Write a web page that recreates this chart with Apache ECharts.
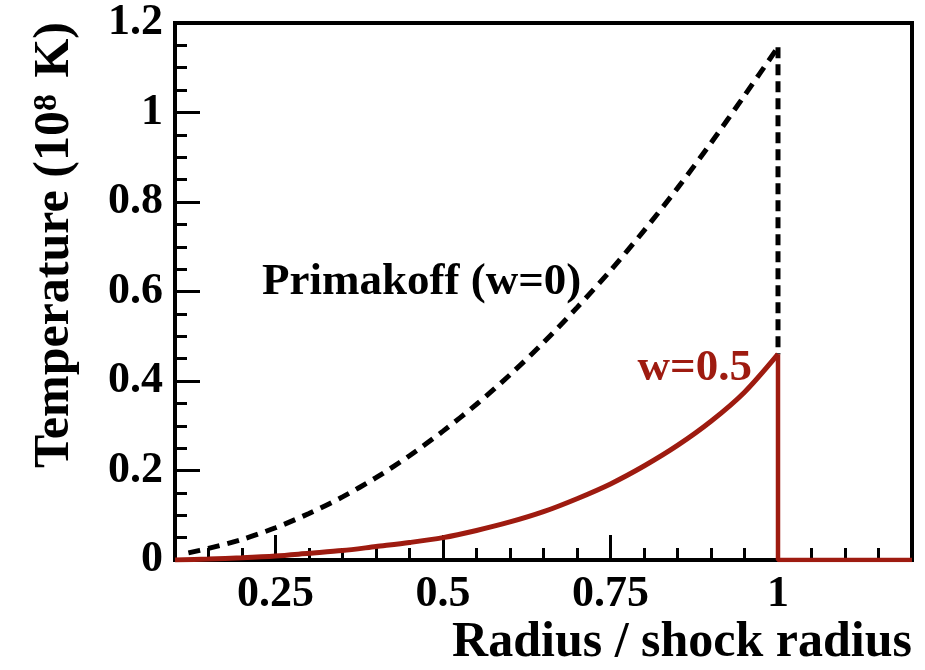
<!DOCTYPE html>
<html>
<head>
<meta charset="utf-8">
<script src="https://cdn.jsdelivr.net/npm/echarts@6/dist/echarts.min.js"></script>
<style>
  html, body { margin: 0; padding: 0; background: #fff; }
  #chart { width: 925px; height: 670px; }
</style>
</head>
<body>
<div id="chart"></div>
<script>
// Primakoff (w=0), dashed black
var radiusW0 = [0.12, 0.15, 0.2, 0.25, 0.3, 0.35, 0.4, 0.45, 0.5, 0.55, 0.6, 0.65, 0.7, 0.75, 0.8, 0.85, 0.9, 0.95, 1.0];
var tempW0   = [0.016, 0.026, 0.046, 0.072, 0.104, 0.141, 0.184, 0.233, 0.288, 0.348, 0.414, 0.486, 0.564, 0.647, 0.736, 0.831, 0.932, 1.038, 1.146];
// w=0.5, solid red
var radiusW05 = [0.1, 0.15, 0.2, 0.25, 0.3, 0.35, 0.4, 0.45, 0.5, 0.55, 0.6, 0.65, 0.7, 0.75, 0.8, 0.85, 0.9, 0.95, 1.0];
var tempW05   = [0.0, 0.002, 0.005, 0.009, 0.015, 0.021, 0.03, 0.039, 0.05, 0.066, 0.085, 0.108, 0.137, 0.17, 0.21, 0.256, 0.31, 0.375, 0.46];
// shock jump and outside region
var jumpW0X = [1.0, 1.0];
var jumpW0Y = [1.146, 0.46];
var jumpW05X = [1.0, 1.0, 1.2];
var jumpW05Y = [0.46, 0.0, 0.0];
// ticks
var xMajorTicks = [0.25, 0.5, 0.75, 1];
var xMinorTicks = [0.15, 0.2, 0.3, 0.35, 0.4, 0.45, 0.55, 0.6, 0.65, 0.7, 0.8, 0.85, 0.9, 0.95, 1.05, 1.1, 1.15];

var RED = '#9e1b10';
var FONT = '"Liberation Serif", "DejaVu Serif", serif';

function zip(xs, ys) {
  var out = [];
  for (var i = 0; i < xs.length; i++) out.push([xs[i], ys[i]]);
  return out;
}

var chart = echarts.init(document.getElementById('chart'));
var option = {
  animation: false,
  backgroundColor: '#fff',
  grid: {
    left: 175, top: 23, right: 13, bottom: 110,
    show: true, borderColor: '#000', borderWidth: 4
  },
  xAxis: [
    {
      type: 'value', min: 0.1, max: 1.2, position: 'bottom',
      axisLine: { show: false },
      splitLine: { show: false },
      axisTick: { show: true, inside: true, length: 12, lineStyle: { color: '#000', width: 3 }, customValues: xMinorTicks },
      axisLabel: { show: false }
    },
    {
      type: 'value', min: 0.1, max: 1.2, position: 'bottom',
      axisLine: { show: false },
      splitLine: { show: false },
      axisTick: { show: true, inside: true, length: 25, lineStyle: { color: '#000', width: 3 }, customValues: xMajorTicks },
      axisLabel: {
        customValues: xMajorTicks, margin: 13,
        color: '#000', fontFamily: FONT, fontWeight: 'bold', fontSize: 44
      }
    }
  ],
  yAxis: {
    type: 'value', min: 0, max: 1.2, interval: 0.2,
    axisLine: { show: false },
    splitLine: { show: false },
    axisTick: { show: true, inside: true, length: 25, lineStyle: { color: '#000', width: 3 } },
    minorTick: { show: true, splitNumber: 4, length: 12, lineStyle: { color: '#000', width: 3 } },
    axisLabel: {
      margin: 12, color: '#000', fontFamily: FONT, fontWeight: 'bold', fontSize: 44
    }
  },
  series: [
    {
      type: 'line', xAxisIndex: 0, data: zip(radiusW0, tempW0),
      showSymbol: false, smooth: 0.3,
      lineStyle: { color: '#000', width: 5, type: [12, 8] }
    },
    {
      type: 'line', xAxisIndex: 0, data: zip(jumpW0X, jumpW0Y),
      showSymbol: false,
      lineStyle: { color: '#000', width: 5, type: [11, 6] }
    },
    {
      type: 'line', xAxisIndex: 0, data: zip(radiusW05, tempW05),
      showSymbol: false, smooth: 0.3, z: 3,
      lineStyle: { color: RED, width: 5 }
    },
    {
      type: 'line', xAxisIndex: 0, data: zip(jumpW05X, jumpW05Y),
      showSymbol: false, z: 3,
      lineStyle: { color: RED, width: 4.5 }
    }
  ],
  graphic: [
    {
      type: 'text', x: 912, y: 643,
      style: {
        text: 'Radius / shock radius', fill: '#000',
        font: 'bold 50px ' + FONT, textAlign: 'right', textVerticalAlign: 'middle'
      }
    },
    {
      type: 'text', x: 55, y: 245, rotation: Math.PI / 2,
      style: {
        text: 'Temperature (10{s|8} K)', fill: '#000',
        font: 'bold 50px ' + FONT, textAlign: 'center', textVerticalAlign: 'middle',
        rich: { s: { font: 'bold 34px ' + FONT, fill: '#000', verticalAlign: 'top', padding: [0, 4, 0, 0] } }
      }
    },
    {
      type: 'text', x: 262, y: 282,
      style: {
        text: 'Primakoff (w=0)', fill: '#000',
        font: 'bold 45px ' + FONT, textAlign: 'left', textVerticalAlign: 'middle'
      }
    },
    {
      type: 'text', x: 752, y: 368,
      style: {
        text: 'w=0.5', fill: RED,
        font: 'bold 45px ' + FONT, textAlign: 'right', textVerticalAlign: 'middle'
      }
    }
  ]
};
chart.setOption(option);
</script>
</body>
</html>
